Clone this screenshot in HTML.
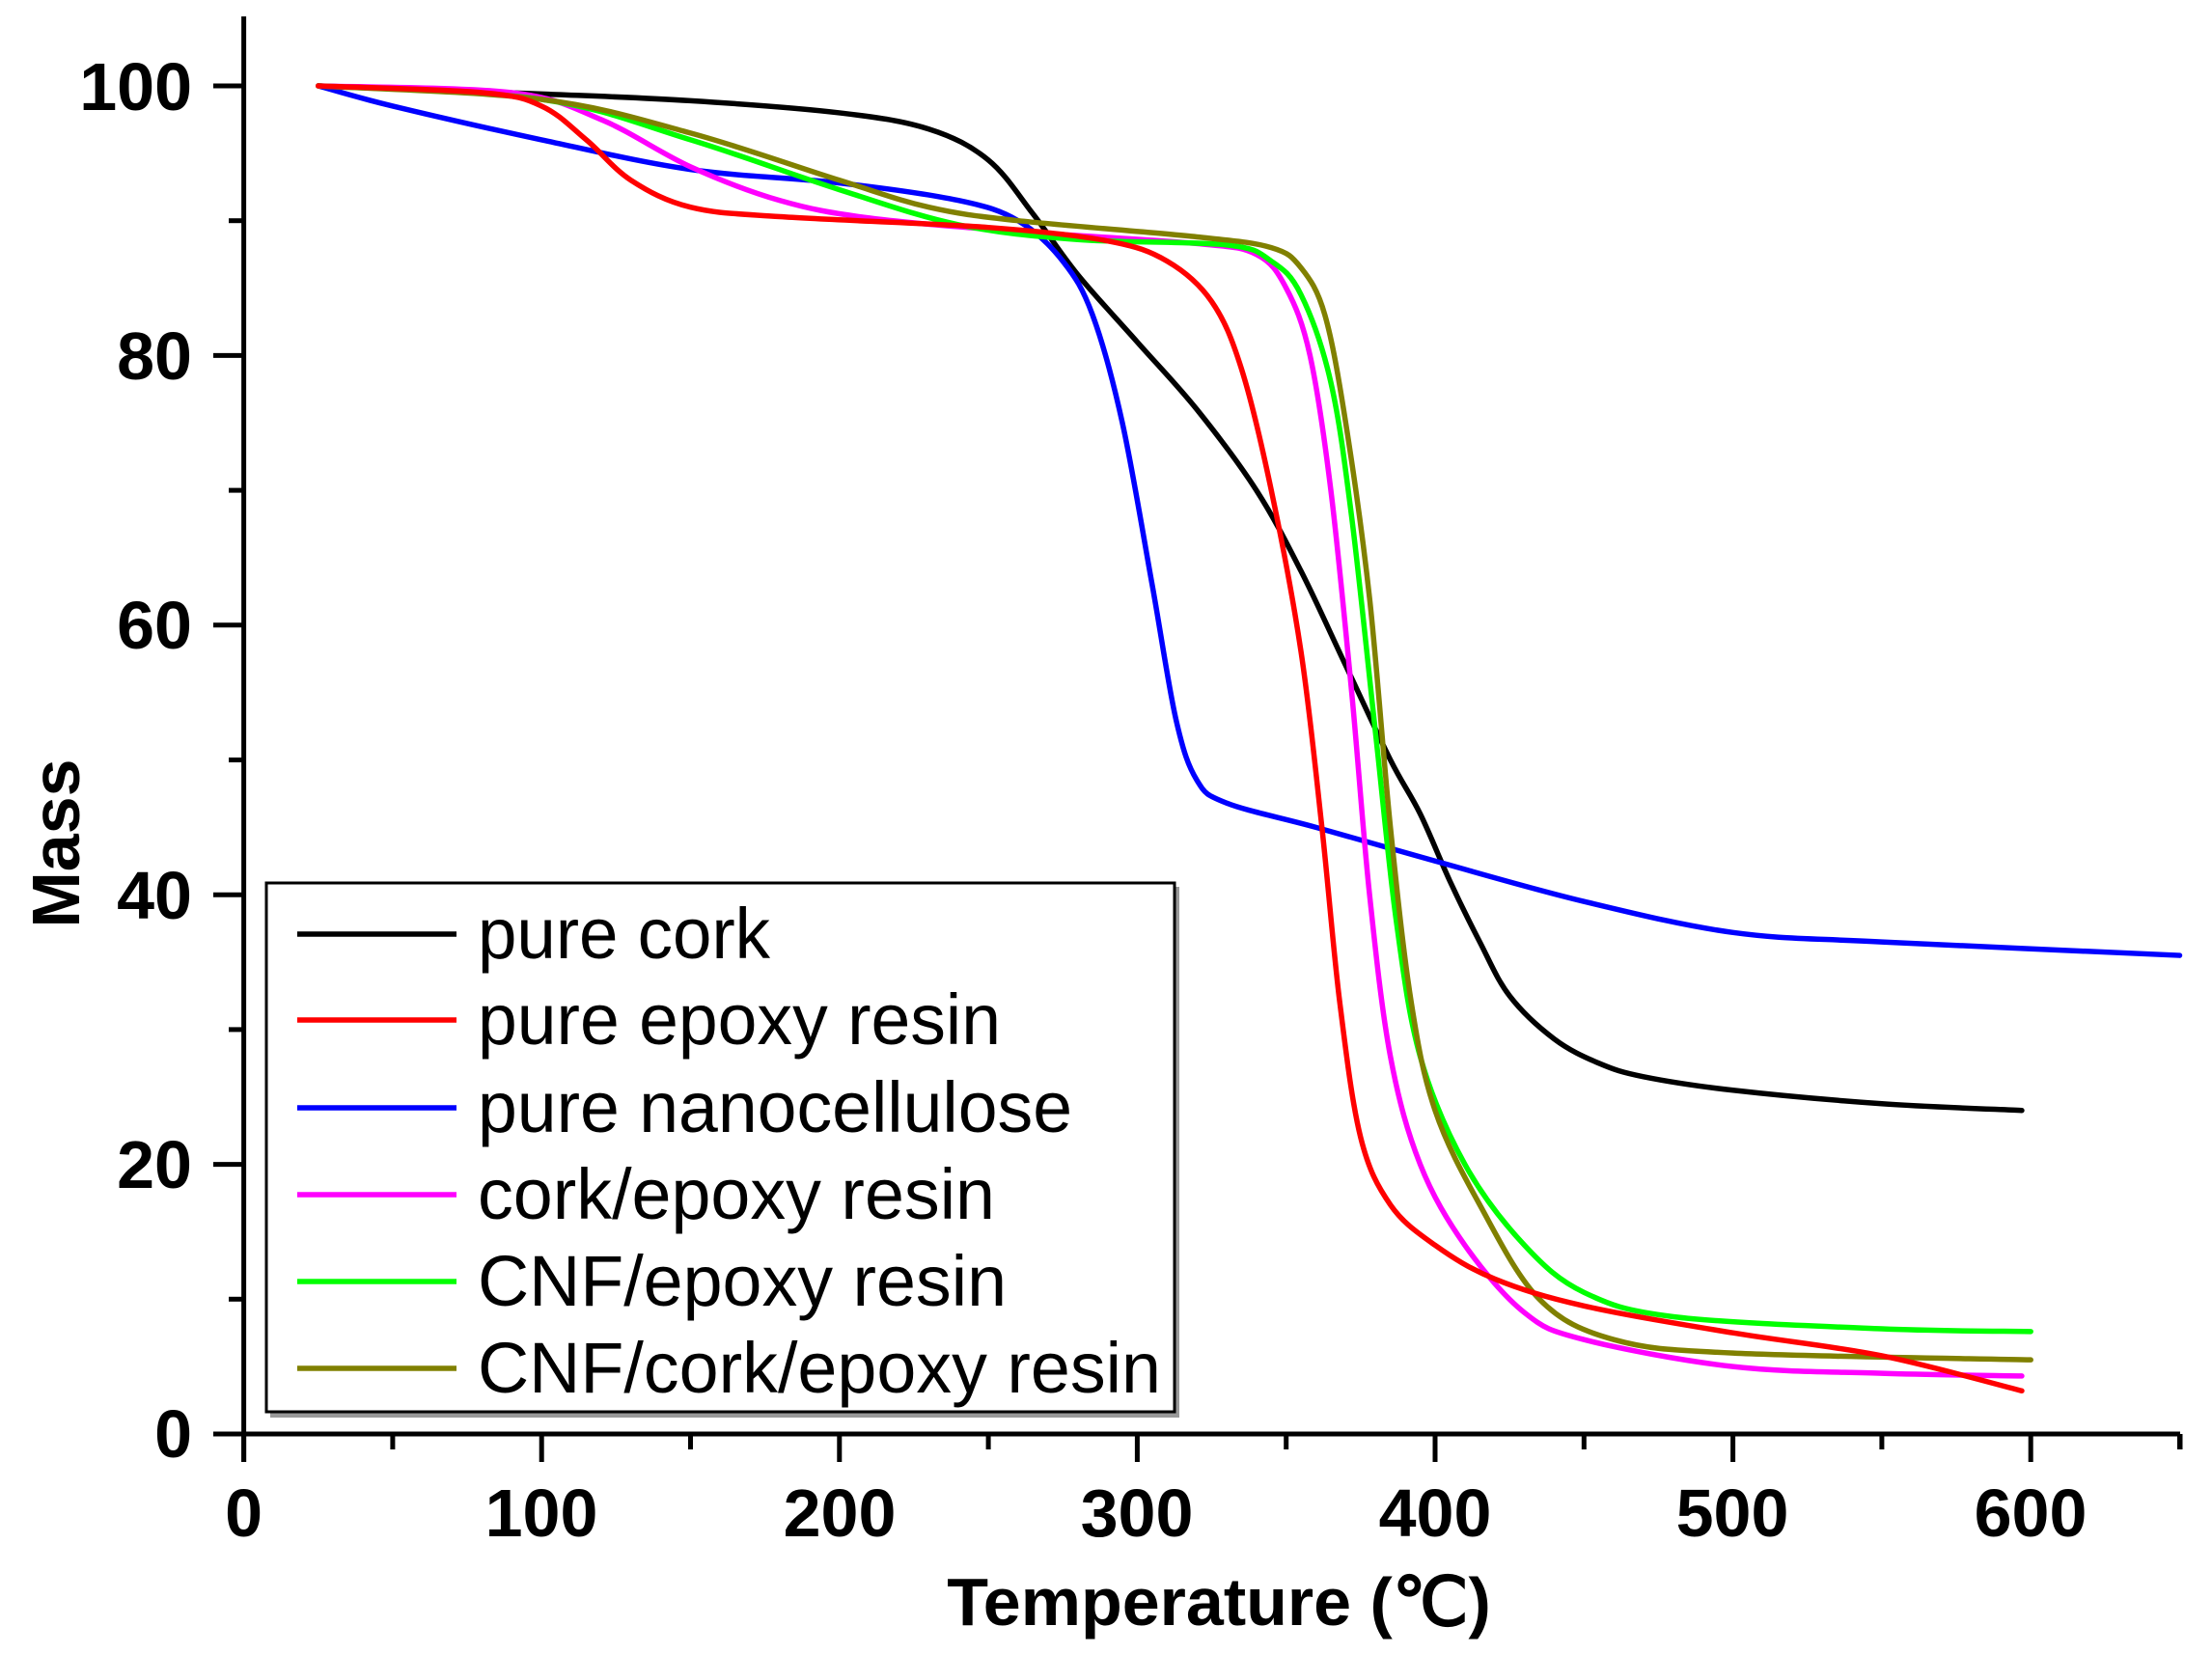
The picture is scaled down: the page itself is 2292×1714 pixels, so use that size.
<!DOCTYPE html>
<html><head><meta charset="utf-8"><style>
html,body{margin:0;padding:0;background:#fff;}
svg{display:block;}
text{font-family:"Liberation Sans",Arial,sans-serif;}
</style></head><body>
<svg id="s" width="2292" height="1714" viewBox="0 0 2292 1714" xmlns="http://www.w3.org/2000/svg">
<rect width="2292" height="1714" fill="#fff"/>
<g id="curves" fill="none" stroke-width="5.5" stroke-linejoin="round" stroke-linecap="round"></g>
<g stroke="#000" stroke-width="5" fill="none">
<line x1="252.6" y1="17" x2="252.6" y2="1515"/>
<line x1="221" y1="1486" x2="2259" y2="1486"/>
<line x1="2259" y1="1486" x2="2259" y2="1502"/>
</g>
<g id="ticks" stroke="#000" stroke-width="5"></g>
<g font-weight="bold" font-size="70" fill="#000">
<text x="199" y="114" text-anchor="end">100</text>
<text x="199" y="393" text-anchor="end">80</text>
<text x="199" y="672" text-anchor="end">60</text>
<text x="199" y="952" text-anchor="end">40</text>
<text x="199" y="1231" text-anchor="end">20</text>
<text x="199" y="1510" text-anchor="end">0</text>
<g text-anchor="middle">
<text x="252.6" y="1592">0</text>
<text x="561" y="1592">100</text>
<text x="870" y="1592">200</text>
<text x="1178" y="1592">300</text>
<text x="1487" y="1592">400</text>
<text x="1795" y="1592">500</text>
<text x="2104" y="1592">600</text>
</g>
<text x="1263" y="1684" text-anchor="middle" font-size="70">Temperature (℃)</text>
<text x="0" y="0" transform="translate(82,874) rotate(-90)" text-anchor="middle" font-size="70">Mass</text>
</g>
<rect x="280" y="919" width="942" height="550" fill="#999"/>
<rect x="276" y="915" width="941" height="548" fill="#fff" stroke="#000" stroke-width="3"/>
<g stroke-width="5.5">
<line x1="308" y1="968" x2="473" y2="968" stroke="#000"/>
<line x1="308" y1="1057" x2="473" y2="1057" stroke="#f00"/>
<line x1="308" y1="1148" x2="473" y2="1148" stroke="#00f"/>
<line x1="308" y1="1238" x2="473" y2="1238" stroke="#f0f"/>
<line x1="308" y1="1328" x2="473" y2="1328" stroke="#0f0"/>
<line x1="308" y1="1418" x2="473" y2="1418" stroke="#808000"/>
</g>
<g font-size="74" fill="#000">
<text x="495" y="993" textLength="303" lengthAdjust="spacingAndGlyphs">pure cork</text>
<text x="495" y="1082" textLength="542" lengthAdjust="spacingAndGlyphs">pure epoxy resin</text>
<text x="495" y="1173" textLength="616" lengthAdjust="spacingAndGlyphs">pure nanocellulose</text>
<text x="495" y="1263" textLength="536" lengthAdjust="spacingAndGlyphs">cork/epoxy resin</text>
<text x="495" y="1353" textLength="548" lengthAdjust="spacingAndGlyphs">CNF/epoxy resin</text>
<text x="495" y="1443" textLength="708" lengthAdjust="spacingAndGlyphs">CNF/cork/epoxy resin</text>
</g>
</svg>
<script>
(function(){
var X=function(t){return 252.6+3.086*t;}, Y=function(m){return 1486-13.97*m;};
var NS="http://www.w3.org/2000/svg";
var tk=document.getElementById("ticks");
for(var t=0;t<=650;t+=50){var l=document.createElementNS(NS,"line");var x=X(t);l.setAttribute("x1",x);l.setAttribute("x2",x);l.setAttribute("y1",1486);l.setAttribute("y2",t%100==0?1515:1502);tk.appendChild(l);}
for(var m=0;m<=100;m+=10){var l=document.createElementNS(NS,"line");var y=Y(m);l.setAttribute("y1",y);l.setAttribute("y2",y);l.setAttribute("x1",252.6);l.setAttribute("x2",m%20==0?221:237);tk.appendChild(l);}
var data=[
["#000",[[25,100],[100,99.4],[150,98.9],[200,98],[230,96.8],[250,94.5],[265,90.5],[280,86],[300,81],[320,76],[340,70],[355,64],[370,57],[385,50],[395,46],[405,41],[415,36.5],[425,32.5],[440,29.3],[455,27.5],[470,26.5],[500,25.5],[550,24.5],[597,24]]],
["#0000ff",[[25,100],[50,98.5],[100,96],[150,93.8],[200,92.8],[240,91.5],[260,90],[275,87],[285,83],[295,75],[305,63],[313,53],[320,48.5],[330,46.8],[360,45],[400,42.5],[450,39.5],[500,37.2],[550,36.5],[650,35.5]]],
["#ff00ff",[[25,100],[90,99.5],[120,97.5],[150,94],[180,91.5],[210,90.2],[260,89.2],[320,88.3],[340,87.5],[350,85],[358,80],[365,70],[372,55],[378,40],[385,28],[395,20],[410,14],[430,9],[450,7],[500,5],[550,4.5],[597,4.3]]],
["#00ff00",[[25,100],[100,99],[150,96],[200,92.3],[240,89.7],[280,88.6],[330,88.2],[345,87],[355,84.5],[365,78],[372,68],[380,52],[387,38],[395,28],[410,20],[430,14],[450,10.5],[480,8.7],[550,7.8],[600,7.6]]],
["#808000",[[25,100],[100,99],[150,96.5],[200,93],[230,91],[260,90],[320,88.8],[345,88],[355,86.5],[363,83],[370,75],[378,62],[385,45],[392,32],[400,24],[415,17],[435,10],[460,7],[500,6],[600,5.5]]],
["#ff0000",[[25,100],[80,99.5],[100,98.5],[115,96],[130,93],[150,91],[180,90.3],[250,89.5],[290,88.5],[310,87],[325,84],[335,79],[345,70],[355,58],[362,45],[368,32],[375,22],[385,17],[400,14],[420,11.5],[450,9.5],[500,7.5],[550,5.8],[597,3.2]]]
];
var g=document.getElementById("curves");
data.forEach(function(s){
 var p=s[1].map(function(a){return [X(a[0]),Y(a[1])];});
 var d="M"+p[0][0]+","+p[0][1];
 for(var i=0;i<p.length-1;i++){
  var p0=p[i>0?i-1:i],p1=p[i],p2=p[i+1],p3=p[i+2<p.length?i+2:i+1];
  var c1=[p1[0]+(p2[0]-p0[0])/6,p1[1]+(p2[1]-p0[1])/6];
  var c2=[p2[0]-(p3[0]-p1[0])/6,p2[1]-(p3[1]-p1[1])/6];
  d+=" C"+c1[0]+","+c1[1]+" "+c2[0]+","+c2[1]+" "+p2[0]+","+p2[1];
 }
 var e=document.createElementNS(NS,"path");e.setAttribute("d",d);e.setAttribute("stroke",s[0]);g.appendChild(e);
});
})();
</script>
</body></html>
